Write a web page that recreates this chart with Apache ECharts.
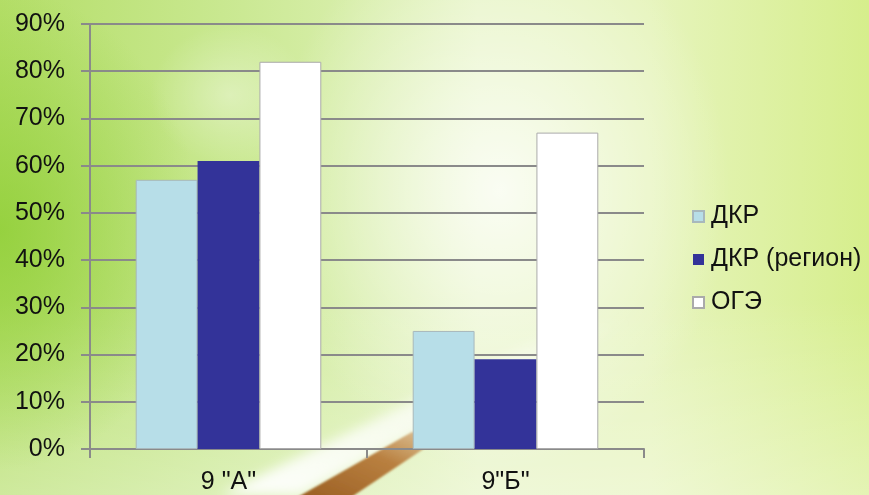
<!DOCTYPE html>
<html>
<head>
<meta charset="utf-8">
<script src="https://cdn.jsdelivr.net/npm/echarts@6/dist/echarts.min.js"></script>
<style>
html,body{margin:0;padding:0;width:869px;height:495px;overflow:hidden;}
#bg{position:absolute;left:0;top:0;width:869px;height:495px;
background:
 radial-gradient(ellipse 230px 280px at 500px 190px, rgba(255,255,255,0.8), rgba(255,255,255,0) 100%),
 radial-gradient(ellipse 80px 70px at 230px 95px, rgba(255,255,255,0.35), rgba(255,255,255,0) 100%),
 radial-gradient(ellipse 200px 240px at 0px 230px, rgba(140,205,50,0.75), rgba(140,205,50,0) 100%),
 linear-gradient(to bottom, rgba(255,255,255,0) 60%, rgba(255,255,255,0.35) 100%),
 linear-gradient(to right, #b4de68 0%, #cbe994 28%, #e6f4c4 55%, #e6f4bc 75%, #d6ee8c 100%);}
#pencil{position:absolute;left:0;top:0;}
#main{position:absolute;left:0;top:0;width:869px;height:495px;}
</style>
</head>
<body>
<div id="bg"></div>
<svg id="pencil" width="869" height="495">
  <defs>
    <linearGradient id="wb" x1="0" y1="1" x2="1" y2="0">
      <stop offset="0" stop-color="#ffffff" stop-opacity="0.95"/>
      <stop offset="0.6" stop-color="#ffffff" stop-opacity="0.6"/>
      <stop offset="1" stop-color="#ffffff" stop-opacity="0"/>
    </linearGradient>
    <linearGradient id="br" x1="0" y1="1" x2="1" y2="0">
      <stop offset="0" stop-color="#9a5e22"/>
      <stop offset="0.6" stop-color="#b98040"/>
      <stop offset="1" stop-color="#d8b080" stop-opacity="0.7"/>
    </linearGradient>
    <filter id="blur" x="-20%" y="-20%" width="140%" height="140%"><feGaussianBlur stdDeviation="6"/></filter>
    <filter id="blur2" x="-20%" y="-20%" width="140%" height="140%"><feGaussianBlur stdDeviation="1.2"/></filter>
  </defs>
  <polygon points="220,495 300,495 630,320 560,330" fill="url(#wb)" filter="url(#blur)"/>
  <polygon points="296,498 350,498 440,438 412,432" fill="url(#br)" filter="url(#blur2)"/>
</svg>
<div id="main"></div>
<script>
var categories = ['9 "А"', '9"Б"'];
var seriesNames = ['ДКР', 'ДКР (регион)', 'ОГЭ'];
var dkr = [57, 25];
var dkrRegion = [61, 19];
var oge = [82, 67];
var yTicks = [0, 10, 20, 30, 40, 50, 60, 70, 80, 90];

var chart = echarts.init(document.getElementById('main'), null, {renderer: 'canvas'});
var font = 'Arial, "Liberation Sans", sans-serif';
var gridColor = '#8a8a8a';
chart.setOption({
  backgroundColor: 'transparent',
  animation: false,
  textStyle: {fontFamily: font},
  grid: {left: 90, right: 225, top: 24, bottom: 43, containLabel: false},
  legend: {
    orient: 'vertical', left: 687, top: 199, itemGap: 18,
    itemWidth: 11, itemHeight: 11, icon: 'rect',
    textStyle: {fontSize: 25, color: '#111', fontFamily: font, lineHeight: 25, padding: [0,0,0,2]},
    data: seriesNames
  },
  xAxis: {
    type: 'category', data: categories,
    axisLine: {lineStyle: {color: gridColor, width: 2}},
    axisTick: {show: true, length: 9, lineStyle: {color: gridColor, width: 2}},
    axisLabel: {fontSize: 25, color: '#111', margin: 21, fontFamily: font}
  },
  yAxis: {
    type: 'value', min: yTicks[0], max: yTicks[yTicks.length-1], interval: 10,
    axisLine: {show: true, lineStyle: {color: gridColor, width: 2}},
    axisTick: {show: true, length: 9, lineStyle: {color: gridColor, width: 2}},
    splitLine: {lineStyle: {color: gridColor, width: 2}},
    axisLabel: {fontSize: 25, color: '#111', margin: 25, fontFamily: font, formatter: '{value}%'}
  },
  series: [
    {name: seriesNames[0], type: 'bar', data: dkr, barGap: '0%', barCategoryGap: '33%',
     itemStyle: {color: '#B7DEE8', borderColor: '#a8b8bc', borderWidth: 1}},
    {name: seriesNames[1], type: 'bar', data: dkrRegion, barGap: '0%', barCategoryGap: '33%',
     itemStyle: {color: '#333399', borderColor: '#333399', borderWidth: 0}},
    {name: seriesNames[2], type: 'bar', data: oge, barGap: '0%', barCategoryGap: '33%',
     itemStyle: {color: '#ffffff', borderColor: '#aaaaaa', borderWidth: 1}}
  ]
});
</script>
</body>
</html>
